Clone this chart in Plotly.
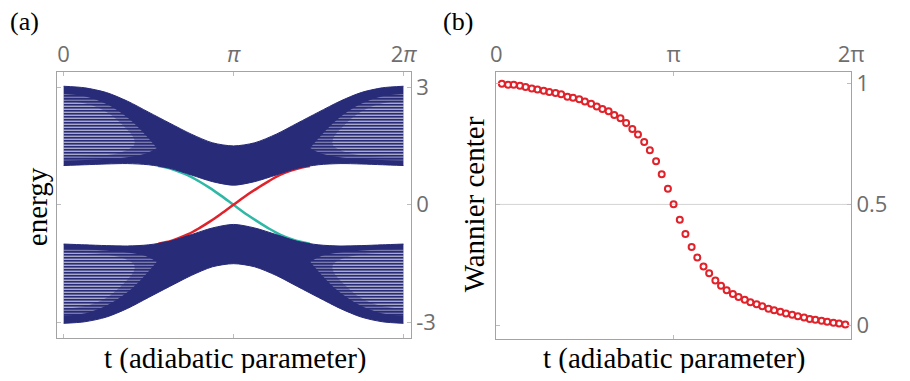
import plotly.graph_objects as go

# ---- panel (a): bulk band edges ----
t_edge = [0.0, 0.39, 0.79, 1.18, 1.57, 1.96, 2.36, 2.75, 3.14,
          3.53, 3.93, 4.32, 4.71, 5.11, 5.50, 5.89, 6.28]
upper_top = [3.02, 2.98, 2.86, 2.64, 2.36, 2.08, 1.80, 1.58, 1.50,
             1.58, 1.80, 2.08, 2.36, 2.64, 2.86, 2.98, 3.02]
upper_bottom = [1.0, 1.02, 1.04, 1.05, 1.02, 0.93, 0.76, 0.59, 0.50,
                0.59, 0.76, 0.93, 1.02, 1.05, 1.04, 1.02, 1.0]
lower_top = [-1.0, -1.02, -1.04, -1.05, -1.02, -0.93, -0.76, -0.59, -0.50,
             -0.59, -0.76, -0.93, -1.02, -1.05, -1.04, -1.02, -1.0]
lower_bottom = [-3.02, -2.98, -2.86, -2.64, -2.36, -2.08, -1.80, -1.58, -1.50,
                -1.58, -1.80, -2.08, -2.36, -2.64, -2.86, -2.98, -3.02]

# striped zones (individual levels resolved) near t=0 and t=2pi
stripe_t_left = [0.0, 0.4, 0.8, 1.2, 1.5, 1.72]
stripe_t_right = [6.28, 5.88, 5.48, 5.08, 4.78, 4.56]
stripe_up_top = [2.82, 2.76, 2.56, 2.20, 1.80, 1.45]
stripe_up_bottom = [1.13, 1.14, 1.17, 1.22, 1.30, 1.45]
stripe_lo_top = [-1.13, -1.14, -1.17, -1.22, -1.30, -1.45]
stripe_lo_bottom = [-2.82, -2.76, -2.56, -2.20, -1.80, -1.45]
# inner, more clearly resolved part of the stripes
core_t_left = [0.0, 0.4, 0.8, 1.1, 1.3]
core_t_right = [6.28, 5.88, 5.48, 5.18, 4.98]
core_up_top = [2.65, 2.58, 2.36, 2.02, 1.68]
core_up_bottom = [1.22, 1.23, 1.27, 1.36, 1.52]
core_lo_top = [-1.22, -1.23, -1.27, -1.36, -1.52]
core_lo_bottom = [-2.65, -2.58, -2.36, -2.02, -1.68]

# edge states
t_edge_state = [1.75, 1.9, 2.1, 2.3, 2.5, 2.7, 2.9, 3.14,
                3.4, 3.6, 3.8, 4.0, 4.2, 4.4, 4.55]
teal_state = [0.99, 0.95, 0.86, 0.75, 0.60, 0.43, 0.24, 0.0,
              -0.26, -0.44, -0.61, -0.76, -0.87, -0.95, -0.99]
red_state = [-0.99, -0.95, -0.86, -0.75, -0.60, -0.43, -0.24, 0.0,
             0.26, 0.44, 0.61, 0.76, 0.87, 0.95, 0.99]

# ---- panel (b): Wannier center ----
t_wannier = [0.10, 0.21, 0.31, 0.42, 0.52, 0.63, 0.73, 0.84, 0.94, 1.05,
             1.15, 1.26, 1.36, 1.47, 1.57, 1.68, 1.78, 1.88, 1.99, 2.09,
             2.20, 2.30, 2.41, 2.51, 2.62, 2.72, 2.83, 2.93, 3.04, 3.14,
             3.25, 3.35, 3.46, 3.56, 3.67, 3.77, 3.88, 3.98, 4.08, 4.19,
             4.29, 4.40, 4.50, 4.61, 4.71, 4.82, 4.92, 5.03, 5.13, 5.24,
             5.34, 5.45, 5.55, 5.65, 5.76, 5.86, 5.97, 6.07, 6.18]
wannier = [0.997, 0.993, 0.993, 0.989, 0.984, 0.978, 0.974, 0.969, 0.963, 0.959,
           0.954, 0.944, 0.940, 0.934, 0.924, 0.915, 0.904, 0.893, 0.884, 0.869,
           0.855, 0.836, 0.811, 0.788, 0.757, 0.723, 0.678, 0.624, 0.565, 0.501,
           0.437, 0.378, 0.324, 0.281, 0.244, 0.216, 0.186, 0.165, 0.146, 0.131,
           0.118, 0.107, 0.097, 0.088, 0.080, 0.070, 0.064, 0.057, 0.050, 0.045,
           0.039, 0.034, 0.028, 0.024, 0.020, 0.016, 0.012, 0.009, 0.005]

NAVY = '#282b78'
TEAL = '#2fb8a6'
RED = '#e0232b'
FRAME = '#a3a3a3'
TICKFONT = dict(family='Open Sans, Lato, sans-serif', size=22, color='#6e6e6e')
SERIF = 'Liberation Serif, Times New Roman, serif'

fig = go.Figure()


def add_band(t, e_top, e_bot):
    # bottom edge first, then the top edge filled down to it
    line = dict(color=NAVY, width=1, shape='spline', smoothing=0.8)
    fig.add_trace(go.Scatter(x=t, y=e_bot, mode='lines', line=line,
                             hoverinfo='skip', showlegend=False, xaxis='x', yaxis='y'))
    fig.add_trace(go.Scatter(x=t, y=e_top, mode='lines', line=line,
                             fill='tonexty', fillcolor=NAVY,
                             hoverinfo='skip', showlegend=False, xaxis='x', yaxis='y'))


def add_stripes(t, e_top, e_bot, opacity):
    # thin white gaps between the individual levels, drawn as a line pattern
    fig.add_trace(go.Scatter(
        x=list(t) + list(t)[::-1],
        y=list(e_top) + list(e_bot)[::-1],
        fill='toself', fillcolor='rgba(0,0,0,0)', mode='lines',
        line=dict(width=0, shape='spline'),
        fillpattern=dict(shape='-', size=3, solidity=0.35,
                         fgcolor='white', bgcolor='rgba(0,0,0,0)', fgopacity=opacity),
        hoverinfo='skip', showlegend=False, xaxis='x', yaxis='y'
    ))


# edge states under the bands so they disappear into the band edges
fig.add_trace(go.Scatter(x=t_edge_state, y=teal_state, mode='lines',
                         line=dict(color=TEAL, width=2.5, shape='spline'),
                         showlegend=False, xaxis='x', yaxis='y'))
fig.add_trace(go.Scatter(x=t_edge_state, y=red_state, mode='lines',
                         line=dict(color=RED, width=2.5, shape='spline'),
                         showlegend=False, xaxis='x', yaxis='y'))

add_band(t_edge, upper_top, upper_bottom)
add_band(t_edge, lower_top, lower_bottom)
for tt in (stripe_t_left, stripe_t_right):
    add_stripes(tt, stripe_up_top, stripe_up_bottom, 0.5)
    add_stripes(tt, stripe_lo_top, stripe_lo_bottom, 0.5)
for tt in (core_t_left, core_t_right):
    add_stripes(tt, core_up_top, core_up_bottom, 0.5)
    add_stripes(tt, core_lo_top, core_lo_bottom, 0.5)

# Wannier centre markers
fig.add_trace(go.Scatter(
    x=t_wannier, y=wannier, mode='markers',
    marker=dict(symbol='circle-open', size=6, color=RED, line=dict(width=2, color=RED)),
    showlegend=False, xaxis='x2', yaxis='y2'
))

axis_common = dict(
    showline=True, linecolor=FRAME, linewidth=1, mirror='ticks',
    ticks='inside', ticklen=4, tickcolor='#bdbdbd', showgrid=False,
    zeroline=False, tickfont=TICKFONT
)

# page body has an 8px margin, so the figure is laid out 8px smaller
fig.update_layout(
    width=894, height=365,
    margin=dict(l=0, r=0, t=0, b=0),
    paper_bgcolor='white', plot_bgcolor='white',
    xaxis=dict(axis_common, domain=[0.0489, 0.4534], range=[-0.127, 6.415],
               side='top', anchor='y', tickvals=[0, 3.14159, 6.28319],
               ticktext=['0', '<i>π</i>', '2<i>π</i>']),
    yaxis=dict(axis_common, domain=[0.0951, 0.8364], range=[-3.39, 3.39],
               side='right', anchor='x', tickvals=[-3, 0, 3],
               ticktext=['-3', '0', '3']),
    xaxis2=dict(axis_common, domain=[0.5511, 0.9567], range=[0, 6.28319],
                side='top', anchor='y2', tickvals=[0, 3.14159, 6.28319],
                ticktext=['0', 'π', '2π']),
    yaxis2=dict(axis_common, domain=[0.0932, 0.8364], range=[-0.053, 1.047],
                side='right', anchor='x2', tickvals=[0, 0.5, 1],
                ticktext=['0', '0.5', '1']),
)

# light grid line at 0.5 in panel (b)
fig.add_shape(type='line', xref='x2 domain', yref='y2', x0=0, x1=1, y0=0.5, y1=0.5,
              line=dict(color='#d4d4d4', width=1), layer='below')

labels = [
    ('(a)', 0.0115, 0.9767, 0, 26),
    ('(b)', 0.507, 0.9767, 0, 26),
    ('energy', 0.0257, 0.4603, -90, 29),
    ('Wannier center', 0.5257, 0.4671, -90, 29),
    ('t (adiabatic parameter)', 0.2528, 0.0384, 0, 29),
    ('t (adiabatic parameter)', 0.7539, 0.0384, 0, 29),
]
for text, x, y, angle, size in labels:
    fig.add_annotation(text=text, x=x, y=y, xref='paper', yref='paper',
                       showarrow=False, textangle=angle,
                       xanchor='center', yanchor='middle',
                       font=dict(family=SERIF, size=size, color='black'))

fig.write_html("out.html")
